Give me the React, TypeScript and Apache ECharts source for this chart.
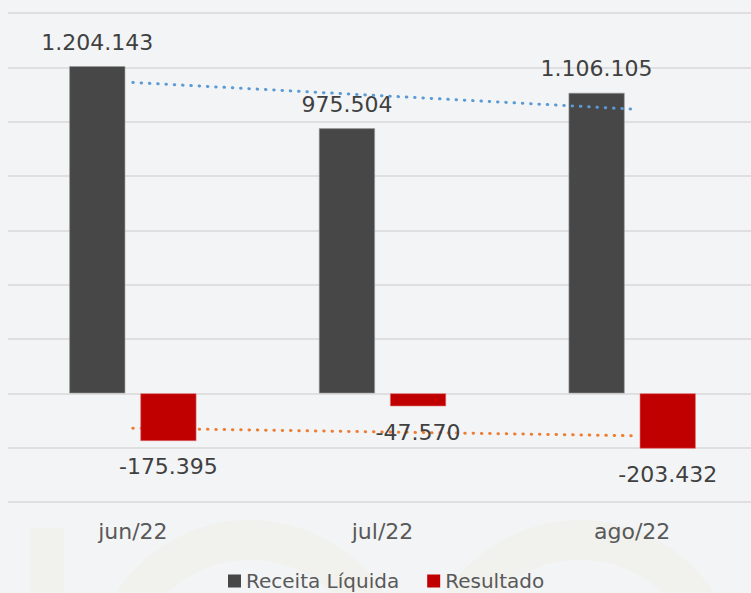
import React, { useEffect, useRef } from "react";
import * as echarts from "echarts";

const categories = ["jun/22", "jul/22", "ago/22"];
const receita = [1204143, 975504, 1106105];
const resultado = [-175395, -47570, -203432];
const seriesNames = ["Receita Líquida", "Resultado"];

function trend(values: number[]): number[] {
  const n = values.length;
  const xs = values.map((_, i) => i + 1);
  const mx = xs.reduce((a, b) => a + b, 0) / n;
  const my = values.reduce((a, b) => a + b, 0) / n;
  let num = 0;
  let den = 0;
  xs.forEach((x, i) => {
    num += (x - mx) * (values[i] - my);
    den += (x - mx) * (x - mx);
  });
  const slope = num / den;
  return xs.map((x) => my + slope * (x - mx));
}

function fmt(v: number): string {
  const s = Math.abs(Math.round(v)).toString().replace(/\B(?=(\d{3})+(?!\d))/g, ".");
  return (v < 0 ? "-" : "") + s;
}

export default function App() {
  const ref = useRef<HTMLDivElement>(null);
  useEffect(() => {
    if (!ref.current) return;
    const chart = echarts.init(ref.current, undefined, { renderer: "svg" });
    const font = "DejaVu Sans";
    chart.setOption({
      animation: false,
      backgroundColor: "#f3f4f6",
      textStyle: { fontFamily: font },
      graphic: [
        { type: "rect", z: -10, silent: true, shape: { x: 30, y: 528, width: 34, height: 70 }, style: { fill: "#f1f1ed" } },
        { type: "ring", z: -10, silent: true, shape: { cx: 250, cy: 680, r: 160, r0: 120 }, style: { fill: "#f1f1ed" } },
        { type: "ring", z: -10, silent: true, shape: { cx: 580, cy: 680, r: 160, r0: 120 }, style: { fill: "#f1f1ed" } },
      ],
      grid: { left: 8, width: 749, top: 13, bottom: 91, containLabel: false },
      legend: {
        data: seriesNames,
        top: 566,
        left: 223,
        icon: "rect",
        itemWidth: 13,
        itemHeight: 13,
        itemGap: 28,
        itemTextGap: 5,
        itemStyle: { borderWidth: 0 },
        textStyle: { fontSize: 20, color: "#595959", fontFamily: font },
      },
      xAxis: {
        type: "category",
        data: categories,
        axisLine: { show: false, onZero: false },
        axisTick: { show: false },
        axisLabel: { fontSize: 22, color: "#595959", margin: 18, fontFamily: font },
      },
      yAxis: {
        type: "value",
        min: -400000,
        max: 1400000,
        interval: 200000,
        axisLabel: { show: false },
        axisLine: { show: false },
        axisTick: { show: false },
        splitLine: { lineStyle: { color: "#d9d9d9", width: 1.5 } },
      },
      series: [
        {
          name: seriesNames[0],
          type: "bar",
          data: receita,
          barWidth: 56,
          barGap: "27%",
          itemStyle: { color: "#474747", borderColor: "#9a9a9a", borderWidth: 0.6 },
          label: {
            show: true,
            position: "outside",
            distance: 13,
            fontSize: 22,
            color: "#404040",
            fontFamily: font,
            formatter: (p: any) => fmt(p.value),
          },
          z: 2,
        },
        {
          name: seriesNames[1],
          type: "bar",
          data: resultado,
          barWidth: 56,
          itemStyle: { color: "#c00000", borderColor: "#e07070", borderWidth: 0.6 },
          label: {
            show: true,
            position: "outside",
            distance: 15,
            fontSize: 22,
            color: "#404040",
            fontFamily: font,
            formatter: (p: any) => fmt(p.value),
          },
          z: 2,
        },
        {
          name: "trend-receita",
          type: "line",
          data: trend(receita),
          symbol: "none",
          silent: true,
          z: 5,
          lineStyle: { color: "#5b9bd5", width: 3, type: [0.5, 7.8], cap: "round" },
        },
        {
          name: "trend-resultado",
          type: "line",
          data: trend(resultado),
          symbol: "none",
          silent: true,
          z: 1,
          lineStyle: { color: "#ed7d31", width: 3, type: [0.5, 7.8], cap: "round" },
        },
      ],
    });
    return () => chart.dispose();
  }, []);
  return (
    <div
      style={{ position: "absolute", left: 0, top: 0, width: 751, height: 593, overflow: "hidden" }}
    >
      <div ref={ref} style={{ width: 760, height: 593 }} />
    </div>
  );
}
